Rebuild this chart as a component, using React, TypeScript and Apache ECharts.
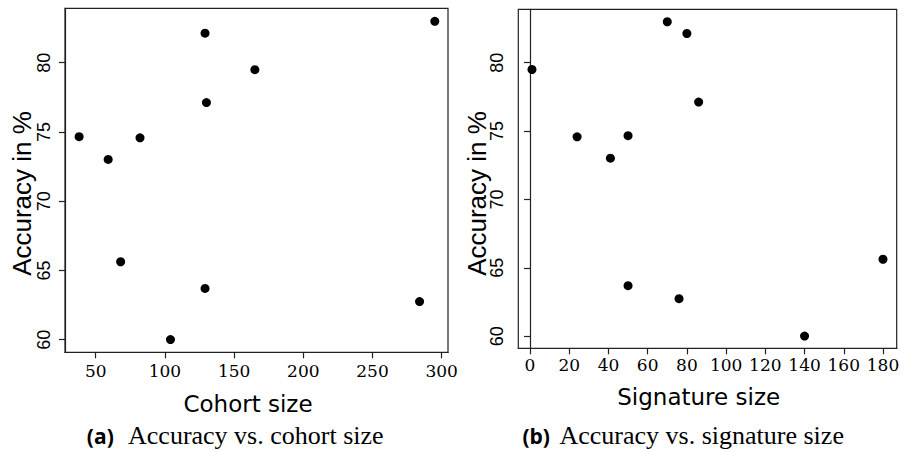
import React, { useEffect, useRef } from "react";
import * as echarts from "echarts";

// Classification accuracy (%) of each study, shared by both panels
const accuracy = [74.66, 73.02, 74.58, 82.13, 77.12, 79.5, 82.99, 65.63, 60.01, 63.7, 62.75];
// Number of samples in each cohort
const cohortSize = [38, 59, 82, 129, 130, 165, 295, 68, 104, 129, 284];
// Number of genes in each signature
const signatureSize = [50, 41, 24, 80, 86, 1, 70, 180, 140, 50, 76];

const accuracyTicks = [60, 65, 70, 75, 80];
const cohortTicks = [50, 100, 150, 200, 250, 300];
const signatureTicks = [0, 20, 40, 60, 80, 100, 120, 140, 160, 180];

const INK = "#000";
const FRAME = "#222";

function valueAxis(gridIndex: number, min: number, max: number, ticks: number[], isY: boolean, margin: number) {
  return {
    type: "value",
    gridIndex,
    min,
    max,
    splitLine: { show: false },
    axisLine: { show: true, lineStyle: { color: FRAME, width: 1.2 } },
    axisTick: {
      show: true,
      inside: false,
      length: 6,
      customValues: ticks,
      lineStyle: { color: FRAME, width: 1.2 },
    },
    axisLabel: isY
      ? {
          customValues: ticks,
          rotate: 90,
          margin,
          color: INK,
          fontFamily: "Liberation Sans",
          fontSize: 18,
        }
      : {
          customValues: ticks,
          margin,
          color: INK,
          fontFamily: "DejaVu Serif",
          fontSize: 17,
        },
  };
}

function text(content: string, x: number, y: number, family: string, size: number, weight = "normal", rotation = 0) {
  return {
    type: "text",
    x,
    y,
    rotation,
    silent: true,
    style: {
      text: content,
      fill: INK,
      fontFamily: family,
      fontSize: size,
      fontWeight: weight,
      align: "center",
      verticalAlign: "middle",
    },
  };
}

export default function App() {
  const ref = useRef<HTMLDivElement>(null);

  useEffect(() => {
    if (!ref.current) return;
    const chart = echarts.init(ref.current, null, { renderer: "svg" });
    const scatterStyle = { color: "#000", opacity: 1 };
    chart.setOption({
      animation: false,
      backgroundColor: "#fff",
      grid: [
        { left: 65, top: 8.3, width: 383, height: 344, show: true, borderColor: FRAME, borderWidth: 1.2 },
        { left: 518.3, top: 9.3, width: 378.4, height: 339, show: true, borderColor: FRAME, borderWidth: 1.2 },
      ],
      xAxis: [
        valueAxis(0, 27.8, 304.55, cohortTicks, false, 10),
        valueAxis(1, -5.97, 186.99, signatureTicks, false, 8),
      ],
      yAxis: [
        valueAxis(0, 59.09, 83.93, accuracyTicks, true, 12),
        valueAxis(1, 59.12, 83.9, accuracyTicks, true, 12),
      ],
      series: [
        {
          type: "scatter",
          xAxisIndex: 0,
          yAxisIndex: 0,
          symbol: "circle",
          symbolSize: 9,
          itemStyle: scatterStyle,
          data: cohortSize.map((c, i) => [c, accuracy[i]]),
        },
        {
          type: "scatter",
          xAxisIndex: 1,
          yAxisIndex: 1,
          symbol: "circle",
          symbolSize: 9,
          itemStyle: scatterStyle,
          data: signatureSize.map((s, i) => [s, accuracy[i]]),
        },
      ],
      graphic: [
        text("Accuracy in %", 22, 193.5, "Liberation Sans", 26, "normal", Math.PI / 2),
        text("Accuracy in %", 476.5, 193.5, "Liberation Sans", 26, "normal", Math.PI / 2),
        text("Cohort size", 248, 403.5, "DejaVu Sans", 23),
        text("Signature size", 698.7, 397, "DejaVu Sans", 23),
        text("(a)", 100.3, 435.5, "Open Sans", 21, "bold"),
        text("Accuracy vs. cohort size", 255.8, 435.5, "Liberation Serif", 26),
        text("(b)", 536.2, 435.5, "Open Sans", 21, "bold"),
        text("Accuracy vs. signature size", 701.7, 435.5, "Liberation Serif", 26),
      ],
    });
    return () => chart.dispose();
  }, []);

  return (
    <div
      ref={ref}
      style={{ position: "fixed", left: 0, top: 0, width: 905, height: 452, background: "#fff" }}
    />
  );
}
